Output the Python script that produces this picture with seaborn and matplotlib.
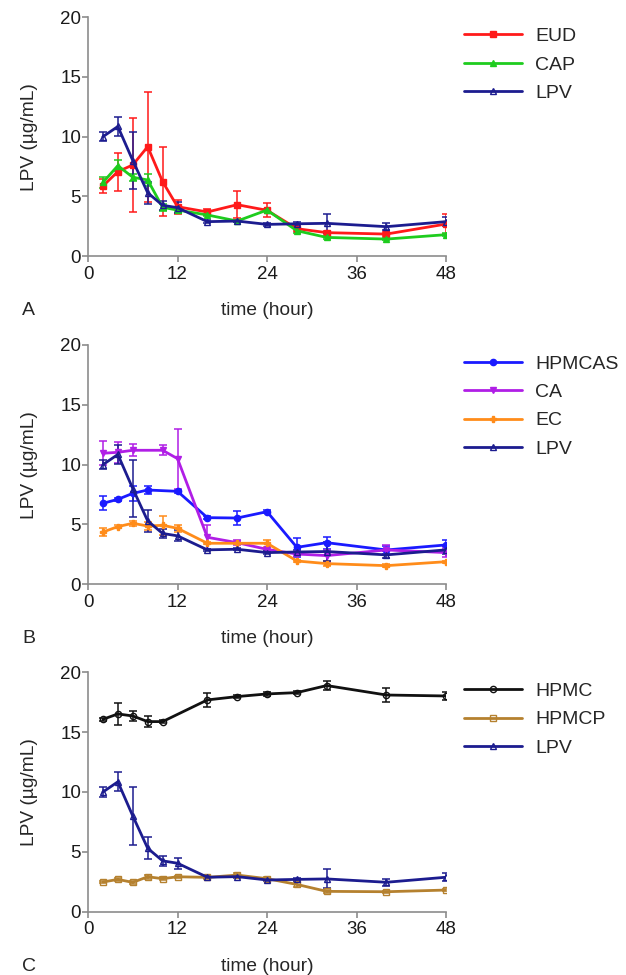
import matplotlib
matplotlib.use("Agg")
import matplotlib.pyplot as plt
import seaborn as sns
import pandas as pd

# sampling times (hour)
t_all = [2, 4, 6, 8, 10, 12, 16, 20, 24, 28, 32, 40, 48]
t_no8 = [2, 4, 6, 10, 12, 16, 20, 24, 28, 32, 40, 48]
t_no10 = [2, 4, 6, 8, 12, 16, 20, 24, 28, 32, 40, 48]
t_no12 = [2, 4, 6, 8, 10, 16, 20, 24, 28, 32, 40, 48]

# pure LPV (shared by all panels)
lpv = [10.0, 10.85, 8.0, 5.3, 4.25, 4.05, 2.88, 2.93, 2.65, 2.7, 2.74, 2.46, 2.88]
lpv_sd = [0.4, 0.8, 2.4, 0.9, 0.4, 0.45, 0.1, 0.1, 0.1, 0.15, 0.8, 0.3, 0.35]

# panel A
eud = [5.87, 7.07, 7.63, 9.16, 6.23, 4.13, 3.69, 4.3, 3.83, 2.29, 1.96, 1.84, 2.68]
eud_sd = [0.6, 1.6, 3.9, 4.6, 2.9, 0.6, 0.25, 1.15, 0.6, 0.2, 0.15, 0.2, 0.8]
cap = [6.17, 7.57, 6.6, 6.37, 4.08, 3.85, 3.44, 2.93, 3.85, 2.12, 1.56, 1.42, 1.79]
cap_sd = [0.45, 0.45, 0.3, 0.5, 0.3, 0.15, 0.1, 0.1, 0.1, 0.2, 0.1, 0.1, 0.1]

# panel B
hpmcas = [6.77, 7.1, 7.6, 7.88, 7.77, 5.57, 5.54, 6.07, 3.09, 3.48, 2.87, 3.29]
hpmcas_sd = [0.6, 0.1, 0.6, 0.35, 0.15, 0.1, 0.55, 0.1, 0.8, 0.5, 0.3, 0.4]
ca = [10.95, 11.03, 11.2, 11.2, 10.5, 3.93, 3.48, 2.92, 2.53, 2.4, 2.87, 2.65]
ca_sd = [1.0, 0.9, 0.5, 0.4, 2.5, 1.0, 0.2, 0.15, 0.15, 0.5, 0.4, 0.35]
ec = [4.37, 4.82, 5.1, 4.87, 4.93, 4.68, 3.43, 3.43, 3.43, 1.95, 1.73, 1.56, 1.89]
ec_sd = [0.35, 0.1, 0.2, 0.35, 0.8, 0.3, 0.1, 0.1, 0.3, 0.1, 0.2, 0.1, 0.1]

# panel C
hpmc = [16.07, 16.52, 16.35, 15.88, 15.88, 17.69, 17.97, 18.19, 18.3, 18.89, 18.1, 18.02]
hpmc_sd = [0.1, 0.9, 0.45, 0.45, 0.1, 0.6, 0.1, 0.15, 0.1, 0.35, 0.6, 0.3]
hpmcp = [2.48, 2.7, 2.45, 2.92, 2.76, 2.92, 2.87, 3.06, 2.76, 2.28, 1.7, 1.67, 1.81]
hpmcp_sd = [0.1, 0.1, 0.1, 0.15, 0.1, 0.1, 0.15, 0.15, 0.1, 0.2, 0.1, 0.1, 0.1]

navy = "#1c1c8f"
panels = [
    ("A", [("EUD", t_all, eud, eud_sd, "#ff1a1a", "s", True),
           ("CAP", t_all, cap, cap_sd, "#1ecc1e", "^", True),
           ("LPV", t_all, lpv, lpv_sd, navy, "^", False)]),
    ("B", [("HPMCAS", t_no10, hpmcas, hpmcas_sd, "#1a1aff", "o", True),
           ("CA", t_no8, ca, ca_sd, "#b01ee6", "v", True),
           ("EC", t_all, ec, ec_sd, "#ff8c1a", "P", True),
           ("LPV", t_all, lpv, lpv_sd, navy, "^", False)]),
    ("C", [("HPMC", t_no12, hpmc, hpmc_sd, "#111111", "o", False),
           ("HPMCP", t_all, hpmcp, hpmcp_sd, "#b5812f", "s", False),
           ("LPV", t_all, lpv, lpv_sd, navy, "^", False)]),
]

sns.set_style("ticks")
plt.rcParams["font.family"] = ["Liberation Sans", "DejaVu Sans"]
plt.rcParams["font.size"] = 12

fig = plt.figure(figsize=(6.26, 9.75), dpi=100)
boxes = [[0.1406, 0.7374, 0.5719, 0.2449],
         [0.1406, 0.4007, 0.5719, 0.2455],
         [0.1406, 0.0649, 0.5719, 0.2456]]

for (letter, series), box in zip(panels, boxes):
    ax = fig.add_axes(box)
    for name, t, y, sd, col, mk, filled in series:
        df = pd.DataFrame({"time": t, "val": y})
        sns.lineplot(data=df, x="time", y="val", ax=ax, color=col, lw=2.0,
                     marker=mk, markersize=4.5, markeredgecolor=col,
                     markerfacecolor=col if filled else "none",
                     markeredgewidth=1.0, label=name, zorder=3)
        ax.errorbar(t, y, yerr=sd, fmt="none", ecolor=col, elinewidth=1.1,
                    capsize=3, capthick=1.1, zorder=2)
    ax.set_xlim(0, 48)
    ax.set_ylim(0, 20)
    ax.set_xticks([0, 12, 24, 36, 48])
    ax.set_yticks([0, 5, 10, 15, 20])
    ax.spines["top"].set_visible(False)
    ax.spines["right"].set_visible(False)
    for s in ("left", "bottom"):
        ax.spines[s].set_color("#8c8c8c")
        ax.spines[s].set_linewidth(1.2)
    ax.tick_params(colors="#8c8c8c", labelcolor="#1a1a1a", length=4,
                   width=1.2, labelsize=13.5)
    ax.tick_params(axis="x", pad=3)
    ax.tick_params(axis="y", pad=1)
    ax.set_xlabel("time (hour)", fontsize=13.8, labelpad=14)
    ax.set_ylabel("LPV (µg/mL)", fontsize=13.8, labelpad=16)
    ax.text(-0.165, -0.228, letter, transform=ax.transAxes, fontsize=14,
            ha="center", va="center")
    leg = ax.legend(loc="upper left", bbox_to_anchor=(1.0, 1.03),
                    frameon=False, fontsize=14, handlelength=3.0,
                    labelspacing=0.55, handletextpad=0.7)

fig.savefig("out.png", dpi=100)
